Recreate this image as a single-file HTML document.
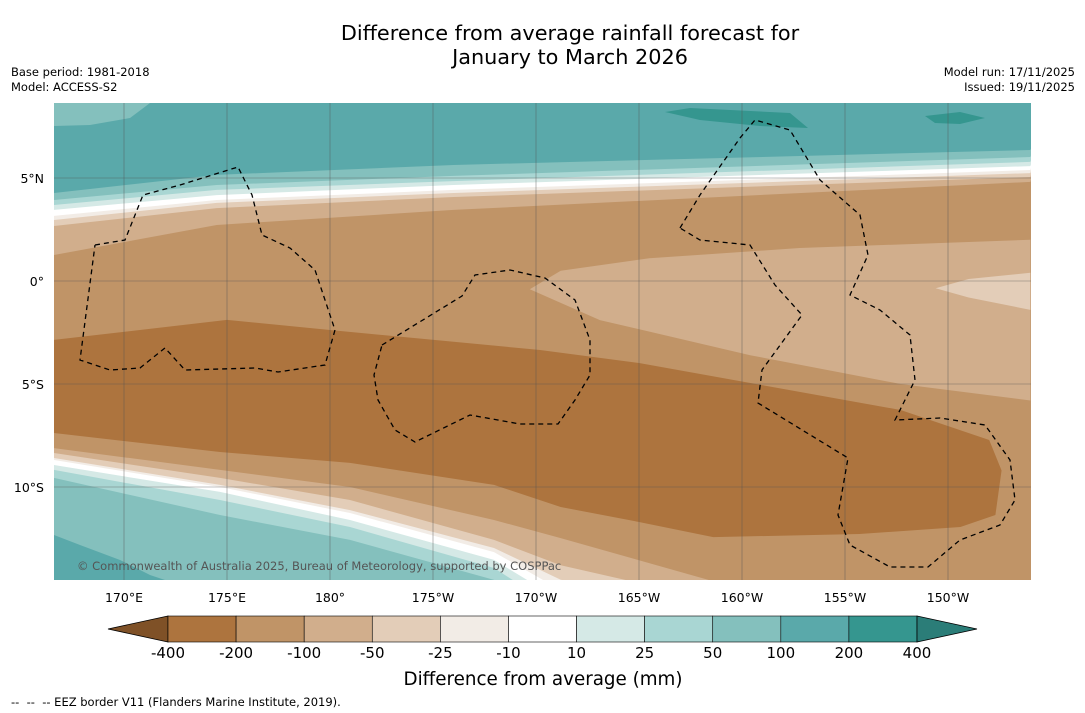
<!DOCTYPE html>
<html><head><meta charset="utf-8">
<style>
body{margin:0;background:#fff;font-family:"DejaVu Sans","Liberation Sans",sans-serif;}
#wrap{position:relative;width:1085px;height:713px;overflow:hidden;background:#fff}
.t{position:absolute;color:#000}
svg text{font-family:"DejaVu Sans","Liberation Sans",sans-serif;}
</style></head>
<body>
<div id="wrap">
<div class="t" style="left:0;width:1140px;top:21px;text-align:center;font-size:20.8px;line-height:24px">Difference from average rainfall forecast for<br>January to March 2026</div>
<div class="t" style="left:11px;top:65px;font-size:11.5px;line-height:15px">Base period: 1981-2018<br>Model: ACCESS-S2</div>
<div class="t" style="right:10px;top:65px;font-size:11.5px;line-height:15px;text-align:right">Model run: 17/11/2025<br>Issued: 19/11/2025</div>
<svg id="svg" width="1085" height="713" style="position:absolute;left:0;top:0"></svg>
<div class="t" style="left:11px;top:695px;font-size:11.5px">--&nbsp; --&nbsp; -- EEZ border V11 (Flanders Marine Institute, 2019).</div>
</div>
<script>
const levels=["-400","-200","-100","-50","-25","-10","10","25","50","100","200","400"];
const boxLevels=["-200","-100","-50","-25","-10","10","25","50","100","200","400"];
const lowExtColor="#7f5127", highExtColor="#2b7d78";
const lonTicks=[170,175,180,185,190,195,200,205,210];
const lonLabels=["170°E","175°E","180°","175°W","170°W","165°W","160°W","155°W","150°W"];
const latTicks=[5,0,-5,-10];
const latLabels=["5°N","0°","5°S","10°S"];
const topLons=[166.6,174.5,186,214];
const topLevels=["-50","-25","-10","10","25","50","100","200"];
const topLatsM50=[1.26,2.72,3.45,4.81];
const topLatsM25=[2.67,3.54,4.08,5.05];
const topLatsM10=[2.96,3.79,4.27,5.24];
const topLats10=[3.16,3.93,4.42,5.39];
const topLats25=[3.45,4.17,4.66,5.58];
const topLats50=[3.69,4.42,4.85,5.78];
const topLats100=[3.93,4.66,5.10,6.02];
const topLats200=[4.27,5.15,5.63,6.36];
const bandUpperLons=[166.6,175,180,190.2,195,207.7,212.0];
const bandUpperLats=[-2.86,-1.89,-2.38,-3.35,-3.98,-6.26,-7.72];
const bandLowerLons=[166.6,174.66,180.97,187.96,191.2,195.0,198.6,205.7,210.6,212.3];
const bandLowerLats=[-7.38,-8.30,-8.83,-9.9,-10.97,-11.70,-12.43,-12.28,-11.94,-11.36];
const bandEndLon=212.6, bandEndLat=-9.2;
const lowLons=[166.6,174.66,180.97,187.96,191.2,198.7,214];
const lowLevels=["-50","-25","-10","10","25","50","100"];
const lowLatsM50=[-8.11,-9.17,-10.0,-11.6,-12.48,-14.6,-15.5];
const lowLatsM25=[-8.35,-9.56,-10.63,-12.57,-13.8,-15.5,-16];
const lowLatsM10=[-8.59,-9.90,-11.12,-12.96,-14.5,-16,-16.5];
const lowLats10=[-8.69,-10.0,-11.26,-13.16,-15,-16.5,-17];
const lowLats25=[-8.93,-10.24,-11.6,-13.54,-15.5,-17,-17.5];
const lowLats50=[-9.17,-10.63,-11.94,-13.93,-16,-17.5,-18];
const lowLats100=[-9.56,-11.36,-12.57,-14.51,-16.5,-18,-18.5];
const mid50TopLons=[189.7,191.2,195.5,202.8,214];
const mid50TopLats=[-0.4,0.5,1.1,1.6,2.0];
const mid50BotLons=[189.7,193.1,200.4,207.7,214];
const mid50BotLats=[-0.4,-1.9,-3.6,-5.0,-5.8];

const X=lon=>124+(lon-170)*20.6, Y=lat=>281-lat*20.6;
const L=54,R=1031,T=103,B=580;
const svg=document.getElementById('svg');
const NS='http://www.w3.org/2000/svg';
function mk(tag,attrs){const e=document.createElementNS(NS,tag);for(const k in attrs)e.setAttribute(k,attrs[k]);return e;}
function colOf(l){const m={"-200":"#ad743e","-100":"#c09467","-50":"#d1ae8c","-25":"#e3cdb8","-10":"#f2ece6","10":"#ffffff","25":"#d5e9e6","50":"#a9d6d3","100":"#84c0bd","200":"#5aa9aa","400":"#35968f"};return m[l];}
const clip=mk('clipPath',{id:'mc'});clip.appendChild(mk('rect',{x:L,y:T,width:R-L,height:B-T}));
const defs=mk('defs',{});defs.appendChild(clip);svg.appendChild(defs);
const g=mk('g',{'clip-path':'url(#mc)'});svg.appendChild(g);
function pts(lons,lats){return lons.map((lo,i)=>X(lo).toFixed(1)+','+Y(lats[i]).toFixed(1));}
function poly(p,fill,name){const e=mk('polygon',{points:p.join(' '),fill:fill});


g.appendChild(e);return e;}
poly([L+','+T,R+','+T,R+','+B,L+','+B],colOf("-100"),'region-minus100');
poly(pts(mid50TopLons,mid50TopLats).concat(pts(mid50BotLons,mid50BotLats).reverse()),colOf("-50"),'region-minus50-east');
poly([X(209.4)+','+Y(-0.35),X(211)+','+Y(0.1),X(214)+','+Y(0.4),X(214)+','+Y(-1.4),X(211)+','+Y(-0.8)],colOf("-25"),'region-minus25-east');
const topArr=[topLatsM50,topLatsM25,topLatsM10,topLats10,topLats25,topLats50,topLats100,topLats200];
topLevels.forEach((lv,i)=>{
 poly([X(166)+','+T].concat(pts(topLons,topArr[i])).concat([X(215)+','+T]),colOf(lv),'band-north-'+lv);
});
poly([L+','+T,'150,'+T,'130,118','90,125',L+',126'],colOf("100"),'patch-100-nw');
poly(['665,112','690,108','790,113','808,128','760,126','700,120'],colOf("400"),'patch-400-a');
poly(['925,116','960,112','985,118','960,124','935,123'],colOf("400"),'patch-400-b');
const lowArr=[lowLatsM50,lowLatsM25,lowLatsM10,lowLats10,lowLats25,lowLats50,lowLats100];
lowLevels.forEach((lv,i)=>{
 poly(pts(lowLons,lowArr[i]).concat([X(215)+','+(B+80),X(166)+','+(B+80)]),colOf(lv),'band-south-'+lv);
});
poly([L+','+535,'80,545','120,560','150,575','165,'+B,L+','+B],colOf("200"),'patch-200-sw');
poly(pts(bandUpperLons,bandUpperLats).concat([X(bandEndLon)+','+Y(bandEndLat)]).concat(pts(bandLowerLons,bandLowerLats).reverse()),colOf("-200"),'band-minus200');
lonTicks.forEach((lo,i)=>{const e=mk('line',{x1:X(lo),x2:X(lo),y1:T,y2:B,stroke:'#555','stroke-width':0.6,opacity:0.7});
g.appendChild(e);
const t=mk('text',{x:X(lo),y:602,'text-anchor':'middle','font-size':12.5});t.textContent=lonLabels[i];
svg.appendChild(t);});
latTicks.forEach((la,i)=>{const e=mk('line',{x1:L,x2:R,y1:Y(la),y2:Y(la),stroke:'#555','stroke-width':0.6,opacity:0.7});
g.appendChild(e);
const t=mk('text',{x:44,y:Y(la)+5,'text-anchor':'end','font-size':12.5});t.textContent=latLabels[i];
svg.appendChild(t);});
const eez=["M95,245 L125,240 L143,195 L180,185 L238,167 L252,195 L262,235 L290,248 L315,270 L335,330 L325,365 L278,372 L255,368 L185,370 L165,348 L140,368 L110,370 L80,360 L95,245",
"M382,345 L462,296 L475,275 L510,270 L545,278 L575,300 L590,340 L590,375 L575,400 L558,424 L520,424 L470,415 L415,442 L395,430 L378,400 L374,375 L382,345",
"M680,228 L700,195 L740,138 L755,120 L790,130 L820,180 L860,215 L868,255 L850,295 L880,310 L910,335 L915,380 L895,420 L940,418 L985,425 L1010,460 L1015,500 L1000,525 L960,540 L928,567 L890,567 L850,545 L838,515 L848,458 L758,403 L762,370 L778,348 L802,315 L775,285 L750,245 L700,240 L680,228"];
eez.forEach(d=>{const e=mk('path',{d:d,fill:'none',stroke:'#000','stroke-width':1.3,'stroke-dasharray':'5,4'});
g.appendChild(e);});
const cr=mk('text',{x:77,y:570,'font-size':11.5,fill:'#555'});cr.textContent='© Commonwealth of Australia 2025, Bureau of Meteorology, supported by COSPPac';
svg.appendChild(cr);
const cbL=168,cbR=917,cbT=616,cbH=26;
const cbW=(cbR-cbL)/boxLevels.length;
const lt=mk('polygon',{points:`108,${cbT+cbH/2} ${cbL},${cbT} ${cbL},${cbT+cbH}`,fill:lowExtColor,stroke:'#000','stroke-width':0.8});
svg.appendChild(lt);
boxLevels.forEach((lv,i)=>{const r=mk('rect',{x:cbL+i*cbW,y:cbT,width:cbW,height:cbH,fill:colOf(lv),stroke:'#000','stroke-width':0.6});
svg.appendChild(r);});
const rt=mk('polygon',{points:`${cbR},${cbT} ${cbR+60},${cbT+cbH/2} ${cbR},${cbT+cbH}`,fill:highExtColor,stroke:'#000','stroke-width':0.8});
svg.appendChild(rt);
levels.forEach((l,i)=>{
 const t=mk('text',{x:cbL+i*cbW,y:658,'text-anchor':'middle','font-size':15});t.textContent=l;
 svg.appendChild(t);});
const ct=mk('text',{x:543,y:685,'text-anchor':'middle','font-size':18.3});ct.textContent='Difference from average (mm)';
svg.appendChild(ct);
</script>
</body></html>
